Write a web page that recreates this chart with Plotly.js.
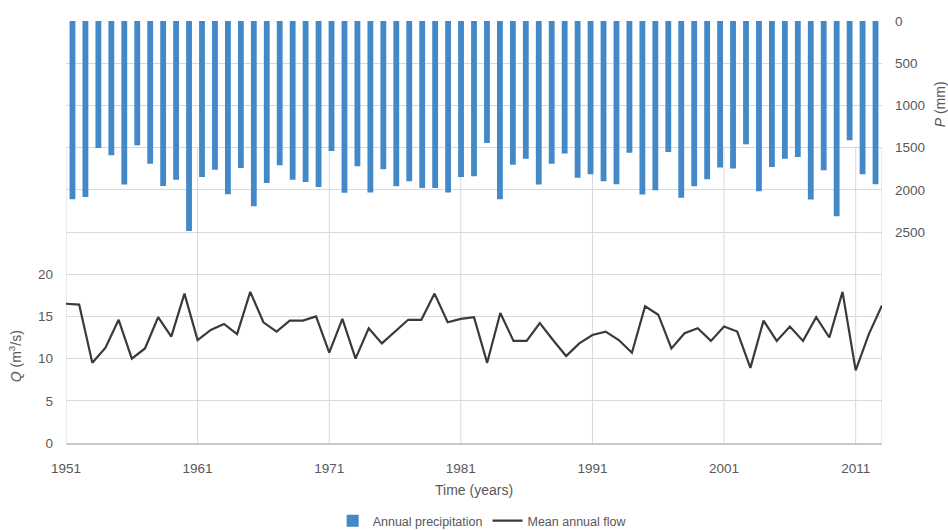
<!DOCTYPE html>
<html><head><meta charset="utf-8">
<script src="https://cdn.plot.ly/plotly-3.0.1.min.js"></script>
<style>html,body{margin:0;padding:0;background:#fff;}#chart{width:948px;height:530px;}</style>
</head><body><div id="chart"></div>
<script>
const years = [1951,1952,1953,1954,1955,1956,1957,1958,1959,1960,
  1961,1962,1963,1964,1965,1966,1967,1968,1969,1970,
  1971,1972,1973,1974,1975,1976,1977,1978,1979,1980,
  1981,1982,1983,1984,1985,1986,1987,1988,1989,1990,
  1991,1992,1993,1994,1995,1996,1997,1998,1999,2000,
  2001,2002,2003,2004,2005,2006,2007,2008,2009,2010,
  2011,2012,2013];
const precipitation = [2113,2085,1505,1591,1938,1473,1690,1955,1880,2488,
  1848,1761,2053,1741,2195,1919,1710,1880,1907,1966,
  1540,2035,1721,2033,1757,1958,1899,1978,1978,2033,
  1848,1840,1445,2113,1702,1631,1938,1690,1571,1856,
  1817,1899,1935,1560,2057,2006,1552,2093,1958,1876,
  1737,1749,1461,2018,1729,1631,1611,2116,1769,2314,
  1413,1817,1935];
const flow = [16.5,16.4,9.5,11.3,14.6,10.0,11.2,14.9,12.6,17.7,
  12.2,13.4,14.1,12.9,17.9,14.3,13.2,14.5,14.5,15.0,
  10.7,14.7,10.0,13.6,11.8,13.2,14.6,14.6,17.7,14.3,
  14.7,14.9,9.5,15.4,12.1,12.1,14.2,12.2,10.3,11.8,
  12.8,13.2,12.2,10.7,16.2,15.2,11.2,13.0,13.6,12.1,
  13.8,13.2,8.9,14.5,12.1,13.8,12.1,14.9,12.5,17.9,
  8.6,12.9,16.3];
const xTickYears = [1951,1961,1971,1981,1991,2001,2011];
const qTicks = [0,5,10,15,20];
const pTicks = [0,500,1000,1500,2000,2500];

const FONT = 'Liberation Sans, Arial, sans-serif';
const GREY = '#595959';
const GRID = '#d9d9d9';

// gridlines across both stacked panels (Q grid levels that continue under the P panel)
const qGrid = [0,5,10,15,20,25,30,35,40,45];
const qGridText = qGrid.map(v => qTicks.includes(v) ? String(v) : '');

const firstYear = years[0], lastYear = years[years.length-1];
const vLines = xTickYears.concat([lastYear]).map(yr => ({
  type:'line', xref:'x', yref:'y', x0:yr, x1:yr, y0:0, y1:35,
  line:{color:GRID, width:1}, layer:'below'
}));

const traces = [
  {type:'bar', name:'Annual precipitation', x:years, y:precipitation,
   xaxis:'x2', yaxis:'y2', width:0.45,
   marker:{color:'#4389c8'}},
  {type:'scatter', mode:'lines', name:'Mean annual flow', x:years, y:flow,
   xaxis:'x', yaxis:'y', line:{color:'#3a3a3a', width:2.2}}
];

const layout = {
  width:948, height:530,
  margin:{l:66, r:66, t:21, b:87},
  paper_bgcolor:'#fff', plot_bgcolor:'rgba(0,0,0,0)',
  font:{family:FONT, color:GREY, size:13},
  showlegend:true,
  legend:{orientation:'h', x:0.51, xanchor:'center', yref:'container', y:1-521/530, yanchor:'middle',
          font:{size:12.5, color:GREY}, itemwidth:30},
  xaxis:{range:[firstYear, lastYear], tickvals:xTickYears, ticks:'', showgrid:false,
         zeroline:false, showline:true, linecolor:'#c8c8c8', linewidth:2, automargin:false,
         ticklabelstandoff:12, tickfont:{size:13.5, color:GREY}},
  xaxis2:{overlaying:'x', range:[firstYear-0.5, lastYear+0.5], visible:false},
  yaxis:{range:[0,50], tickvals:qGrid, ticktext:qGridText, showgrid:true, gridcolor:GRID, automargin:false,
         gridwidth:1, zeroline:false, ticks:'', ticklabelstandoff:12, tickfont:{size:13.5, color:GREY}},
  yaxis2:{overlaying:'y', side:'right', range:[5000,0], tickvals:pTicks, showgrid:false, automargin:false,
          zeroline:false, ticks:'', ticklabelstandoff:12, tickfont:{size:13.5, color:GREY}},
  shapes:vLines,
  annotations:[
    {xref:'paper', yref:'paper', x:(474-66)/816, y:(442.7-490)/422, xanchor:'center', yanchor:'middle',
     text:'Time (years)', showarrow:false, font:{size:14, color:GREY}},
    {xref:'paper', yref:'paper', x:(15-66)/816, y:(442.7-356)/422, xanchor:'center', yanchor:'middle',
     text:'<i>Q</i> (m<sup>3</sup>/s)', textangle:-90, showarrow:false, font:{size:14, color:GREY}},
    {xref:'paper', yref:'paper', x:(940-66)/816, y:(442.7-104)/422, xanchor:'center', yanchor:'middle',
     text:'<i>P</i> (mm)', textangle:-90, showarrow:false, font:{size:14, color:GREY}}
  ]
};

Plotly.newPlot('chart', traces, layout, {displayModeBar:false, staticPlot:true});
</script></body></html>
